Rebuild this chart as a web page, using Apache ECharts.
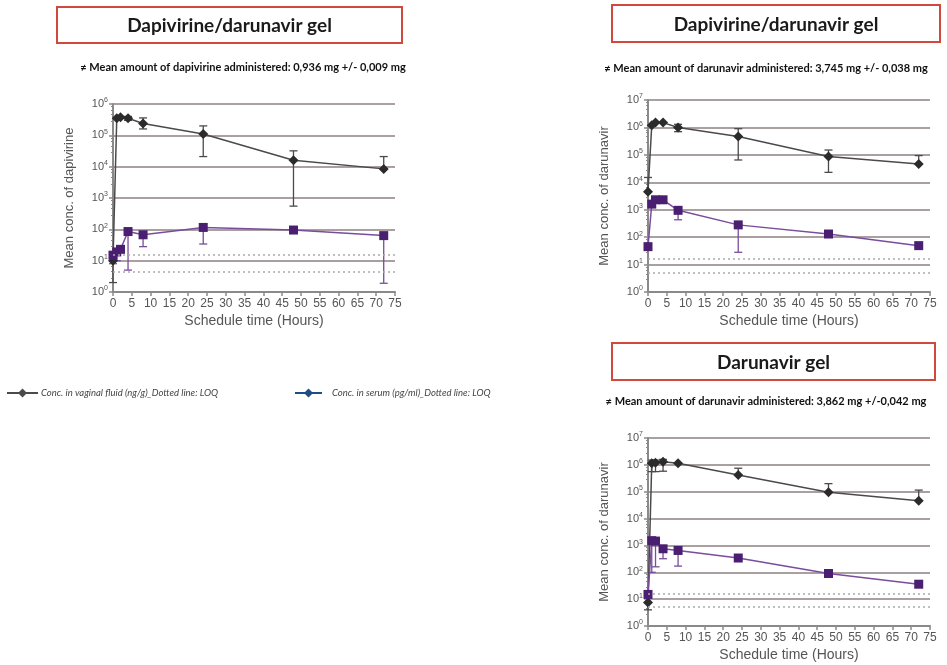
<!DOCTYPE html>
<html><head><meta charset="utf-8">
<script src="https://cdn.jsdelivr.net/npm/echarts@6/dist/echarts.min.js"></script>
<style>html,body{margin:0;padding:0;background:#fff}#c{width:947px;height:665px}</style>
</head><body><div id="c"></div>
<script>
// ---- data ----
const times = [0, 1, 2, 4, 8, 24, 48, 72];
const xTickInterval = 5;

// Panel 1: Dapivirine/darunavir gel - dapivirine
const p1Vag     = [10, 3.5e5, 3.8e5, 3.5e5, 2.4e5, 1.1e5, 1.6e4, 8.5e3];
const p1VagLow  = [2, 3.5e5, 3.8e5, 3.0e5, 1.6e5, 2.1e4, 5.5e2, 8.5e3];
const p1VagHigh = [10, 3.5e5, 3.8e5, 4.0e5, 3.6e5, 2.0e5, 3.2e4, 2.1e4];
const p1Ser     = [15, 19, 23, 85, 67, 115, 95, 63];
const p1SerLow  = [8, 10, 19, 5, 28, 34, 95, 1.9];
const p1SerHigh = [15, 19, 23, 85, 67, 115, 95, 63];
const p1Loq     = [16, 4.5];

// Panel 2: Dapivirine/darunavir gel - darunavir
const p2Vag     = [4.5e3, 1.2e6, 1.5e6, 1.5e6, 1.0e6, 4.7e5, 8.7e4, 4.6e4];
const p2VagLow  = [4.5e3, 1.2e6, 1.5e6, 1.5e6, 7e5, 6.5e4, 2.3e4, 4.6e4];
const p2VagHigh = [1.5e4, 1.2e6, 1.5e6, 1.5e6, 1.3e6, 9e5, 1.5e5, 9.4e4];
const p2Ser     = [45, 1.6e3, 2.3e3, 2.3e3, 950, 280, 130, 49];
const p2SerLow  = [45, 1.6e3, 2.3e3, 2.3e3, 430, 28, 130, 49];
const p2SerHigh = [45, 1.6e3, 2.3e3, 2.3e3, 950, 280, 130, 49];
const p2Loq     = [17, 5.2];

// Panel 3: Darunavir gel - darunavir
const p3Vag     = [7.5, 1.15e6, 1.2e6, 1.3e6, 1.15e6, 4.2e5, 9.5e4, 4.6e4];
const p3VagLow  = [4, 5.6e5, 5.6e5, 5.8e5, 1.15e6, 4.2e5, 9.5e4, 4.6e4];
const p3VagHigh = [7.5, 1.5e6, 1.5e6, 1.6e6, 1.15e6, 7.5e5, 2e5, 1.15e5];
const p3Ser     = [15, 1.5e3, 1.45e3, 750, 650, 340, 90, 36];
const p3SerLow  = [15, 100, 160, 320, 170, 340, 90, 36];
const p3SerHigh = [15, 1.5e3, 1.45e3, 750, 650, 340, 90, 36];
const p3Loq     = [16, 5.2];

const titles = ['Dapivirine/darunavir gel', 'Dapivirine/darunavir gel', 'Darunavir gel'];
const subtitles = [
  '\u2260 Mean amount of dapivirine administered: 0,936 mg +/- 0,009 mg',
  '\u2260 Mean amount of darunavir administered: 3,745 mg +/- 0,038 mg',
  '\u2260 Mean amount of darunavir administered: 3,862 mg +/-0,042 mg'
];
const yNames = ['Mean conc. of dapivirine', 'Mean conc. of darunavir', 'Mean conc. of darunavir'];
const xName = 'Schedule time (Hours)';
const legendNames = ['Conc. in vaginal fluid (ng/g)_Dotted line: LOQ', 'Conc. in serum (pg/ml)_Dotted line: LOQ'];

// ---- styles ----
const BLACK = '#2b2b2b', BLACK_LINE = '#4a4a4a';
const PURPLE = '#4a1f72', PURPLE_LINE = '#7a4c9c';
const GRID_C = '#8e8080', AXIS_C = '#8a8a8a', TXT = '#555';

const grids = [
  {left: 113, top: 104, width: 282, height: 188},
  {left: 648, top: 100, width: 282, height: 192},
  {left: 648, top: 438, width: 282, height: 188}
];
const yMax = [1e6, 1e7, 1e7];

const xAxes = grids.map((g, i) => ({
  type: 'value', gridIndex: i, min: 0, max: 75, interval: xTickInterval,
  name: xName, nameLocation: 'middle', nameGap: 22,
  nameTextStyle: {fontFamily: 'Liberation Sans', fontSize: 14, color: TXT},
  axisLine: {show: true, lineStyle: {color: AXIS_C, width: 2}},
  axisTick: {show: true, length: 4, lineStyle: {color: AXIS_C, width: 1.5}},
  axisLabel: {fontFamily: 'Liberation Sans', fontSize: 12, color: TXT, margin: 6},
  splitLine: {show: false}
}));

const yAxes = grids.map((g, i) => ({
  type: 'log', logBase: 10, gridIndex: i, min: 1, max: yMax[i], splitNumber: i === 0 ? 6 : 7,
  name: yNames[i], nameLocation: 'middle', nameGap: 37, nameRotate: 90,
  nameTextStyle: {fontFamily: 'Liberation Sans', fontSize: 13, color: TXT},
  axisLine: {show: true, lineStyle: {color: AXIS_C, width: 2}},
  axisTick: {show: true, length: 4, lineStyle: {color: AXIS_C, width: 1.5}},
  minorTick: {show: true, splitNumber: 5, length: 2, lineStyle: {color: AXIS_C}},
  axisLabel: {
    fontFamily: 'Liberation Sans', fontSize: 11, color: TXT, margin: 5,
    formatter: v => '10{s|' + Math.round(Math.log10(v)) + '}',
    rich: {s: {fontSize: 7, color: TXT, padding: [0, 0, 7, 0]}}
  },
  splitLine: {show: true, lineStyle: {color: GRID_C, width: 1.5}}
}));

function errBars(gi, mean, low, high, color) {
  return {
    type: 'custom', xAxisIndex: gi, yAxisIndex: gi, z: 1, silent: true,
    data: times.map((t, i) => [t, mean[i], low[i], high[i]]),
    encode: {x: 0, y: [1, 2, 3]},
    renderItem(params, api) {
      const x = api.value(0), m = api.value(1), lo = api.value(2), hi = api.value(3);
      const ch = [];
      const w = 4;
      if (lo < m) {
        const a = api.coord([x, m]), b = api.coord([x, lo]);
        ch.push({type: 'line', shape: {x1: a[0], y1: a[1], x2: b[0], y2: b[1]}, style: {stroke: color, lineWidth: 1.3}});
        ch.push({type: 'line', shape: {x1: b[0] - w, y1: b[1], x2: b[0] + w, y2: b[1]}, style: {stroke: color, lineWidth: 1.3}});
      }
      if (hi > m) {
        const a = api.coord([x, m]), b = api.coord([x, hi]);
        ch.push({type: 'line', shape: {x1: a[0], y1: a[1], x2: b[0], y2: b[1]}, style: {stroke: color, lineWidth: 1.3}});
        ch.push({type: 'line', shape: {x1: b[0] - w, y1: b[1], x2: b[0] + w, y2: b[1]}, style: {stroke: color, lineWidth: 1.3}});
      }
      return {type: 'group', children: ch};
    }
  };
}

function vagSeries(gi, vals) {
  return {
    type: 'line', xAxisIndex: gi, yAxisIndex: gi, z: 3,
    data: times.map((t, i) => [t, vals[i]]),
    symbol: 'diamond', symbolSize: 10,
    itemStyle: {color: BLACK},
    lineStyle: {color: BLACK_LINE, width: 1.5}
  };
}
function serSeries(gi, vals, loq) {
  return {
    type: 'line', xAxisIndex: gi, yAxisIndex: gi, z: 3,
    data: times.map((t, i) => [t, vals[i]]),
    symbol: 'rect', symbolSize: 9,
    itemStyle: {color: PURPLE},
    lineStyle: {color: PURPLE_LINE, width: 1.5},
    markLine: {
      silent: true, symbol: 'none', label: {show: false},
      lineStyle: {type: [2, 3], color: '#aaaaaa', width: 1.5},
      data: loq.map(v => ({yAxis: v}))
    }
  };
}

const series = [
  errBars(0, p1Vag, p1VagLow, p1VagHigh, BLACK_LINE), errBars(0, p1Ser, p1SerLow, p1SerHigh, PURPLE_LINE),
  vagSeries(0, p1Vag), serSeries(0, p1Ser, p1Loq),
  errBars(1, p2Vag, p2VagLow, p2VagHigh, BLACK_LINE), errBars(1, p2Ser, p2SerLow, p2SerHigh, PURPLE_LINE),
  vagSeries(1, p2Vag), serSeries(1, p2Ser, p2Loq),
  errBars(2, p3Vag, p3VagLow, p3VagHigh, BLACK_LINE), errBars(2, p3Ser, p3SerLow, p3SerHigh, PURPLE_LINE),
  vagSeries(2, p3Vag), serSeries(2, p3Ser, p3Loq)
];

const boxes = [
  {x: 57, y: 7, w: 345, h: 36, sx: 243, sy: 67},
  {x: 612, y: 5, w: 328, h: 37, sx: 766, sy: 68},
  {x: 612, y: 343, w: 323, h: 37, sx: 766, sy: 401}
];
const graphic = [];
boxes.forEach((b, i) => {
  graphic.push({type: 'rect', shape: {x: b.x, y: b.y, width: b.w, height: b.h},
    style: {fill: '#fff', stroke: '#cf4a3c', lineWidth: 2}});
  graphic.push({type: 'text', x: b.x + b.w / 2, y: b.y + b.h / 2 + 1,
    style: {text: titles[i], font: 'bold 19px Lato', fill: '#1a1a1a', align: 'center', verticalAlign: 'middle'}});
  graphic.push({type: 'text', x: b.sx, y: b.sy,
    style: {text: subtitles[i], font: 'bold 11px Lato', fill: '#111', align: 'center', verticalAlign: 'middle'}});
});
// legend
const legendItems = [
  {x0: 7, x1: 38, color: '#4a4a4a', tx: 41},
  {x0: 295, x1: 322, color: '#1f4f82', tx: 332}
];
legendItems.forEach((l, i) => {
  const cx = (l.x0 + l.x1) / 2, cy = 393;
  graphic.push({type: 'line', shape: {x1: l.x0, y1: cy, x2: l.x1, y2: cy}, style: {stroke: l.color, lineWidth: 2}});
  graphic.push({type: 'polygon', shape: {points: [[cx, cy - 4.5], [cx + 4.5, cy], [cx, cy + 4.5], [cx - 4.5, cy]]}, style: {fill: l.color}});
  graphic.push({type: 'text', x: l.tx, y: cy, style: {text: legendNames[i], font: 'italic 9.5px Lato', fill: '#444', verticalAlign: 'middle'}});
});

const chart = echarts.init(document.getElementById('c'));
chart.setOption({
  animation: false,
  backgroundColor: '#fff',
  grid: grids,
  xAxis: xAxes,
  yAxis: yAxes,
  series: series,
  graphic: graphic
});
</script></body></html>
